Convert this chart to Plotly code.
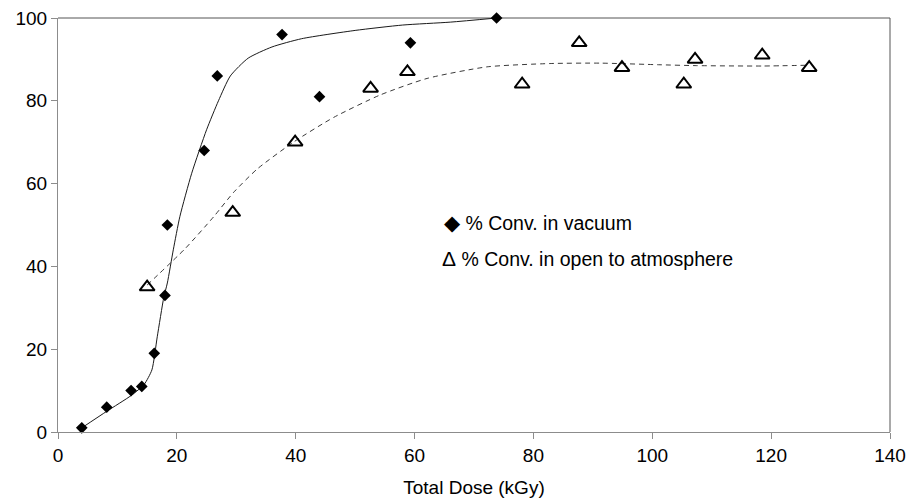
import plotly.graph_objects as go

# Measured conversion (%) versus total absorbed dose (kGy)
vac_dose = [4.0, 8.2, 12.3, 14.1, 16.2, 18.0, 18.4, 24.6, 26.8, 37.7, 44.0, 59.3, 73.8]
vac_conv = [1, 6, 10, 11, 19, 33, 50, 68, 86, 96, 81, 94, 100]

atm_dose = [15.0, 29.4, 39.9, 52.6, 58.8, 78.1, 87.7, 94.9, 105.3, 107.2, 118.5, 126.4]
atm_conv = [35, 53, 70, 83, 87, 84, 94, 88, 84, 90, 91, 88]

# Smoothed trend curves
vac_fit_dose = [4.0, 8.2, 12.3, 14.5, 15.8, 16.7, 17.8, 18.4, 19.4, 20.5, 22.5, 25.0,
                27.0, 29.0, 32.0, 36.0, 41.0, 50.0, 58.0, 66.0, 73.8]
vac_fit_conv = [1.0, 5.0, 8.8, 11.5, 15.0, 23.0, 32.5, 36.0, 44.0, 52.0, 62.5, 73.0,
                80.0, 86.0, 90.3, 93.0, 95.0, 97.0, 98.3, 99.0, 100.0]

atm_fit_dose = [15.0, 21.4, 26.2, 29.5, 33.5, 39.6, 46.4, 54.2, 62.1, 72.2, 82.8,
                91.2, 101.3, 107.2, 118.5, 126.4]
atm_fit_conv = [35.5, 44.3, 52.0, 57.8, 63.5, 70.0, 76.0, 81.4, 85.4, 88.2, 89.0,
                89.1, 88.7, 88.5, 88.4, 88.6]

x_ticks = [0, 20, 40, 60, 80, 100, 120, 140]
y_ticks = [0, 20, 40, 60, 80, 100]

legend_vac = "% Conv. in vacuum"
legend_atm = "% Conv. in open to atmosphere"
x_title = "Total Dose (kGy)"

FONT = "Liberation Sans, Arial, sans-serif"

fig = go.Figure()

fig.add_trace(go.Scatter(
    x=vac_fit_dose, y=vac_fit_conv, mode="lines",
    line=dict(color="#1a1a1a", width=1, shape="spline", smoothing=0.6),
    showlegend=False, hoverinfo="skip"))

fig.add_trace(go.Scatter(
    x=atm_fit_dose, y=atm_fit_conv, mode="lines",
    line=dict(color="#3a3a3a", width=1, dash="5px,4px", shape="spline", smoothing=0.6),
    showlegend=False, hoverinfo="skip"))

fig.add_trace(go.Scatter(
    x=vac_dose, y=vac_conv, mode="markers", name=legend_vac, cliponaxis=False,
    marker=dict(symbol="diamond", size=9, color="black", line=dict(width=0)),
    showlegend=False))

fig.add_trace(go.Scatter(
    x=atm_dose, y=atm_conv, mode="markers", name=legend_atm, cliponaxis=False,
    marker=dict(symbol="triangle-up-open", size=13, color="black", line=dict(width=2)),
    showlegend=False))

# Text legend inside the plotting area
fig.add_annotation(xref="paper", yref="paper", x=0.461, y=0.507,
                   xanchor="left", yanchor="middle", showarrow=False,
                   text="<span style='font-size:21px'>\u25c6</span> " + legend_vac,
                   font=dict(family=FONT, size=19.5, color="black"))
fig.add_annotation(xref="paper", yref="paper", x=0.459, y=0.418,
                   xanchor="left", yanchor="middle", showarrow=False,
                   text="<span style='font-size:21px'>\u0394</span> " + legend_atm,
                   font=dict(family=FONT, size=19.5, color="black"))

# Darker frame on top and right
fig.add_shape(type="line", xref="paper", yref="paper", x0=0, x1=1, y0=1, y1=1,
              line=dict(color="#555555", width=1), layer="below")
fig.add_shape(type="line", xref="paper", yref="paper", x0=1, x1=1, y0=0, y1=1,
              line=dict(color="#555555", width=1), layer="below")

fig.update_xaxes(
    range=[0, 140], tickvals=x_ticks, ticktext=[str(v) for v in x_ticks],
    showgrid=False, zeroline=False, showline=True, linecolor="#8c8c8c", linewidth=1,
    ticks="outside", ticklen=6, tickcolor="#8c8c8c", automargin=False,
    tickfont=dict(family=FONT, size=19, color="black"),
    title=dict(text=x_title, font=dict(family=FONT, size=19, color="black")))

fig.update_yaxes(
    range=[0, 100], tickvals=y_ticks, ticktext=[str(v) for v in y_ticks],
    showgrid=False, zeroline=False, showline=True, linecolor="#8c8c8c", linewidth=1,
    ticks="outside", ticklen=6, tickcolor="#8c8c8c", automargin=False,
    tickfont=dict(family=FONT, size=19, color="black"))

fig.update_layout(
    width=909, height=498,
    margin=dict(l=58, r=19, t=18, b=66),
    plot_bgcolor="white", paper_bgcolor="white",
    showlegend=False)

fig.write_html("out.html")
